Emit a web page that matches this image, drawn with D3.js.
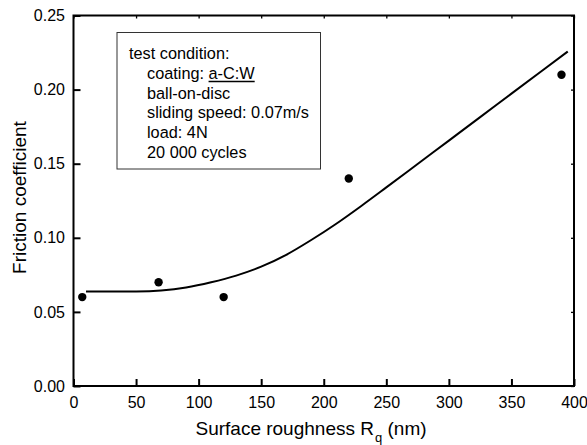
<!DOCTYPE html>
<html>
<head>
<meta charset="utf-8">
<script src="https://cdn.jsdelivr.net/npm/d3@7/dist/d3.min.js"></script>
<style>
  body { margin: 0; background: #fff; }
  svg { display: block; font-family: "Liberation Sans", Arial, sans-serif; }
</style>
</head>
<body>
<svg id="chart" width="587" height="445"></svg>
<script>
// Measured friction coefficient vs. surface roughness
const roughness = [7, 68, 120, 220, 390];
const friction = [0.06, 0.07, 0.06, 0.14, 0.21];

// Fitted trend curve
const fitX = [10, 30, 50, 70, 90, 110, 130, 150, 170, 190, 210, 230, 250, 275, 300, 325, 350, 375, 395];
const fitY = [0.0638, 0.0637, 0.0638, 0.0645, 0.0665, 0.0700, 0.0745, 0.0805, 0.0885, 0.0985, 0.1095, 0.1215, 0.1340, 0.1498, 0.1656, 0.1814, 0.1973, 0.2131, 0.2257];

const xTicks = [0, 50, 100, 150, 200, 250, 300, 350, 400];
const yTicks = [0.00, 0.05, 0.10, 0.15, 0.20, 0.25];

const legendTitle = "test condition:";
const legendLines = ["coating: ", "ball-on-disc", "sliding speed: 0.07m/s", "load: 4N", "20 000 cycles"];
const coatingName = "a-C:W";

const svg = d3.select("#chart");
const W = 587, H = 445;
const x = d3.scaleLinear().domain([0, 400]).range([73.5, 574]);
const y = d3.scaleLinear().domain([0, 0.25]).range([386, 15.5]);

const fmtY = d3.format(".2f");
const FONT = "'Liberation Sans', Arial, sans-serif";

// Axes: long inward ticks on left/bottom, short inward ticks on top/right
const axB = svg.append("g").attr("transform", `translate(0,${y(0)})`)
  .call(d3.axisBottom(x).tickValues(xTicks).tickSizeInner(-7).tickSizeOuter(0).tickPadding(10.5));
const axL = svg.append("g").attr("transform", `translate(${x(0)},0)`)
  .call(d3.axisLeft(y).tickValues(yTicks).tickFormat(fmtY).tickSizeInner(-7).tickSizeOuter(0).tickPadding(8.5));
const axT = svg.append("g").attr("transform", `translate(0,${y(0.25)})`)
  .call(d3.axisTop(x).tickValues(xTicks).tickSizeInner(-3).tickSizeOuter(0).tickFormat(""));
const axR = svg.append("g").attr("transform", `translate(${x(400)},0)`)
  .call(d3.axisRight(y).tickValues(yTicks).tickSizeInner(-3).tickSizeOuter(0).tickFormat(""));

[axB, axL, axT, axR].forEach(g => {
  g.select(".domain").attr("stroke", "none");
  g.selectAll(".tick line").attr("stroke", "#000").attr("stroke-width", 2);
  g.selectAll(".tick text").attr("fill", "#000").style("font-size", "16px").style("font-family", FONT);
});
axT.selectAll(".tick line").attr("stroke-width", 1.3);
axR.selectAll(".tick line").attr("stroke-width", 1.3);

// Plot frame
svg.append("rect")
  .attr("x", x(0)).attr("y", y(0.25))
  .attr("width", x(400) - x(0)).attr("height", y(0) - y(0.25))
  .attr("fill", "none").attr("stroke", "#000").attr("stroke-width", 2);

// Axis titles
svg.append("text")
  .attr("x", 311).attr("y", 435)
  .attr("text-anchor", "middle").style("font-size", "19px")
  .html('Surface roughness R<tspan dx="1" dy="7" font-size="13px">q</tspan><tspan dy="-7"> (nm)</tspan>');

svg.append("text")
  .attr("transform", `translate(25.5,197.5) rotate(-90)`)
  .attr("text-anchor", "middle").style("font-size", "19px")
  .text("Friction coefficient");

// Trend curve
const line = d3.line().x((d, i) => x(fitX[i])).y((d, i) => y(fitY[i])).curve(d3.curveMonotoneX);
svg.append("path").datum(fitX).attr("d", line)
  .attr("fill", "none").attr("stroke", "#000").attr("stroke-width", 2);

// Data points
svg.selectAll("circle.pt").data(roughness).enter().append("circle")
  .attr("class", "pt")
  .attr("cx", d => x(d)).attr("cy", (d, i) => y(friction[i]))
  .attr("r", 4.2).attr("fill", "#000");

// Test-condition box
const box = svg.append("g").style("font-size", "16.3px");
box.append("rect").attr("x", 117).attr("y", 32.5).attr("width", 203.5).attr("height", 136.5)
  .attr("fill", "#fff").attr("stroke", "#333").attr("stroke-width", 1);
box.append("text").attr("x", 129).attr("y", 58.5).text(legendTitle);
legendLines.forEach((s, i) => {
  const by = 79 + i * 19.7;
  const t = box.append("text").attr("x", 147).attr("y", by).attr("xml:space", "preserve");
  t.append("tspan").text(s);
  if (i === 0) {
    const w0 = t.node().getComputedTextLength();
    t.append("tspan").text(coatingName);
    const w1 = t.node().getComputedTextLength();
    box.append("line")
      .attr("x1", 147 + w0).attr("x2", 147 + w1)
      .attr("y1", by + 2.5).attr("y2", by + 2.5)
      .attr("stroke", "#000").attr("stroke-width", 1.6);
  }
});
</script>
</body>
</html>
